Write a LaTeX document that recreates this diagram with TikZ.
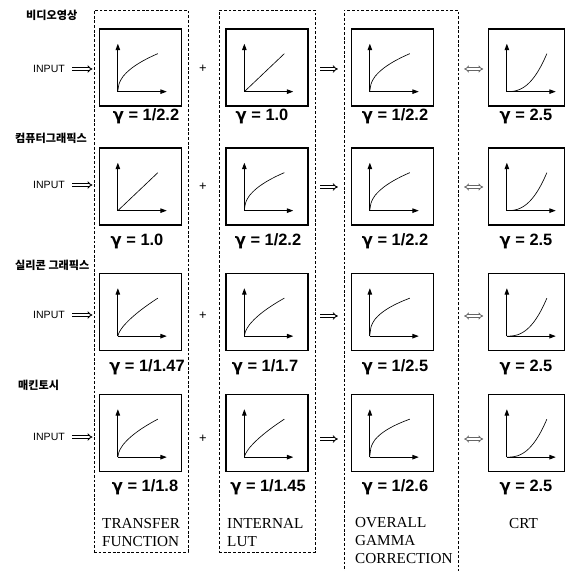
\documentclass[tikz,border=0pt]{standalone}
\usepackage{fontspec}
\setmainfont{Liberation Serif}
\setsansfont{Liberation Sans}
\newfontfamily\krfont{Noto Sans CJK KR}
\newfontfamily\grfont{DejaVu Sans}
\usetikzlibrary{arrows.meta}
\tikzset{
  colbox/.style={draw, dash pattern=on 2.4pt off 1.6pt, line width=0.6pt, inner sep=0pt},
  gframe/.style={draw, line width=1.1pt, minimum width=2.46cm, minimum height=2.31cm, inner sep=0pt},
  crtframe/.style={gframe, minimum width=2.28cm},
  axis/.style={line width=0.9pt, -{Triangle[length=5.5pt,width=3.8pt]}},
  gline/.style={line width=0.55pt},
  glabel/.style={font=\sffamily\bfseries\fontsize{14}{17}\selectfont},
  inlabel/.style={font=\sffamily\fontsize{9}{11}\selectfont},
  plabel/.style={font=\sffamily\fontsize{11}{13}\selectfont},
  srclabel/.style={font=\krfont\bfseries\fontsize{9.5}{11}\selectfont, anchor=west, inner sep=0pt},
  stagelabel/.style={font=\fontsize{13}{15.4}\selectfont, align=left, anchor=north west, inner sep=0pt},
  hollow/.style={double, double distance=1.3pt, line width=0.75pt, -{Implies}},
  faint/.style={double=white, double distance=1.3pt, line width=0.7pt, draw=black!60, {Implies}-{Implies}},
}
\newcommand{\gm}{{\grfont\bfseries γ}}
% axes and transfer curve inside a box: #1 box name, #2 exponent
\newcommand{\gammaplot}[2]{%
  \coordinate (#1o) at ([shift={(19,-15)}]#1.south west);
  \draw[axis] (#1o) -- ++(0,-48);
  \draw[axis] (#1o) -- ++(49,0);
  \draw[gline, shift={(#1o)}] (0,0) -- plot[domain=0.0005:1, samples=40] ({40*\x}, {-38*(\x)^(#2)});
}

\begin{document}
\begin{tikzpicture}[x=0.03cm, y=-0.03cm]
\path[use as bounding box] (0,0) rectangle (571,571);

% stage columns
\node[colbox, minimum width=2.82cm, minimum height=16.26cm] (col1) at (141,281) {};
\node[colbox, minimum width=2.88cm, minimum height=16.26cm] (col2) at (267,281) {};
\node[colbox, minimum width=3.42cm, minimum height=17.1cm] (col3) at (401,295) {};

% sources
\node[srclabel] (s1) at (26,15)  {비디오영상};
\node[srclabel] (s2) at (15,138) {컴퓨터그래픽스};
\node[srclabel] (s3) at (15,265) {실리콘 그래픽스};
\node[srclabel] (s4) at (18,385) {매킨토시};

% row 1
\node[gframe] (b11) at (140.5,67.5) {};
\node[gframe] (b12) at (267,67.5) {};
\node[gframe] (b13) at (392.5,67.5) {};
\node[crtframe] (b14) at (526.5,67.5) {};
\gammaplot{b11}{1/2.2}
\gammaplot{b12}{1.0}
\gammaplot{b13}{1/2.2}
\gammaplot{b14}{2.5}
\node[glabel] (l11) at (146,116) {\gm{} = 1/2.2};
\node[glabel] (l12) at (262,116) {\gm{} = 1.0};
\node[glabel] (l13) at (395,116) {\gm{} = 1/2.2};
\node[glabel] (l14) at (526,116) {\gm{} = 2.5};

% row 2
\node[gframe] (b21) at (140.5,186.5) {};
\node[gframe] (b22) at (267,186.5) {};
\node[gframe] (b23) at (392.5,186.5) {};
\node[crtframe] (b24) at (526.5,186.5) {};
\gammaplot{b21}{1.0}
\gammaplot{b22}{1/2.2}
\gammaplot{b23}{1/2.2}
\gammaplot{b24}{2.5}
\node[glabel] (l21) at (137,241) {\gm{} = 1.0};
\node[glabel] (l22) at (268,241) {\gm{} = 1/2.2};
\node[glabel] (l23) at (395,241) {\gm{} = 1/2.2};
\node[glabel] (l24) at (526,241) {\gm{} = 2.5};

% row 3
\node[gframe] (b31) at (140.5,312) {};
\node[gframe] (b32) at (267,312) {};
\node[gframe] (b33) at (392.5,312) {};
\node[crtframe] (b34) at (526.5,312) {};
\gammaplot{b31}{1/1.47}
\gammaplot{b32}{1/1.7}
\gammaplot{b33}{1/2.5}
\gammaplot{b34}{2.5}
\node[glabel] (l31) at (147,367) {\gm{} = 1/1.47};
\node[glabel] (l32) at (265,367) {\gm{} = 1/1.7};
\node[glabel] (l33) at (395,367) {\gm{} = 1/2.5};
\node[glabel] (l34) at (526,367) {\gm{} = 2.5};

% row 4
\node[gframe] (b41) at (140.5,433) {};
\node[gframe] (b42) at (267,433) {};
\node[gframe] (b43) at (392.5,433) {};
\node[crtframe] (b44) at (526.5,433) {};
\gammaplot{b41}{1/1.8}
\gammaplot{b42}{1/1.45}
\gammaplot{b43}{1/2.6}
\gammaplot{b44}{2.5}
\node[glabel] (l41) at (145,487) {\gm{} = 1/1.8};
\node[glabel] (l42) at (268,487) {\gm{} = 1/1.45};
\node[glabel] (l43) at (395,487) {\gm{} = 1/2.6};
\node[glabel] (l44) at (526,487) {\gm{} = 2.5};

% inputs
\node[inlabel] (in1) at (49,69)  {INPUT};
\node[inlabel] (in2) at (49,185) {INPUT};
\node[inlabel] (in3) at (49,315) {INPUT};
\node[inlabel] (in4) at (49,437) {INPUT};
\draw[hollow, shorten <=3pt, shorten >=1pt] (in1) -- (in1 -| col1.west);
\draw[hollow, shorten <=3pt, shorten >=1pt] (in2) -- (in2 -| col1.west);
\draw[hollow, shorten <=3pt, shorten >=1pt] (in3) -- (in3 -| col1.west);
\draw[hollow, shorten <=3pt, shorten >=1pt] (in4) -- (in4 -| col1.west);

% plus signs
\node[plabel] (p1) at (203,69)  {+};
\node[plabel] (p2) at (203,187) {+};
\node[plabel] (p3) at (203,316) {+};
\node[plabel] (p4) at (203,439) {+};

% stage arrows
\draw[hollow, shorten <=4pt, shorten >=5pt] (in1 -| col2.east) -- (in1 -| col3.west);
\draw[hollow, shorten <=4pt, shorten >=5pt] (p2 -| col2.east) -- (p2 -| col3.west);
\draw[hollow, shorten <=4pt, shorten >=5pt] (p3 -| col2.east) -- (p3 -| col3.west);
\draw[hollow, shorten <=4pt, shorten >=5pt] (p4 -| col2.east) -- (p4 -| col3.west);
\draw[faint, shorten <=5pt, shorten >=4pt] (in1 -| col3.east) -- (in1 -| b14.west);
\draw[faint, shorten <=5pt, shorten >=4pt] (p2 -| col3.east) -- (p2 -| b24.west);
\draw[faint, shorten <=5pt, shorten >=4pt] (p3 -| col3.east) -- (p3 -| b34.west);
\draw[faint, shorten <=5pt, shorten >=4pt] (p4 -| col3.east) -- (p4 -| b44.west);

% stage names
\node[stagelabel] (t1) at (102,518) {TRANSFER\\FUNCTION};
\node[stagelabel] (t2) at (227,518) {INTERNAL\\LUT};
\node[stagelabel] (t3) at (355,517) {OVERALL\\GAMMA\\CORRECTION};
\node[stagelabel] (t4) at (509,518) {CRT};
\end{tikzpicture}
\end{document}
